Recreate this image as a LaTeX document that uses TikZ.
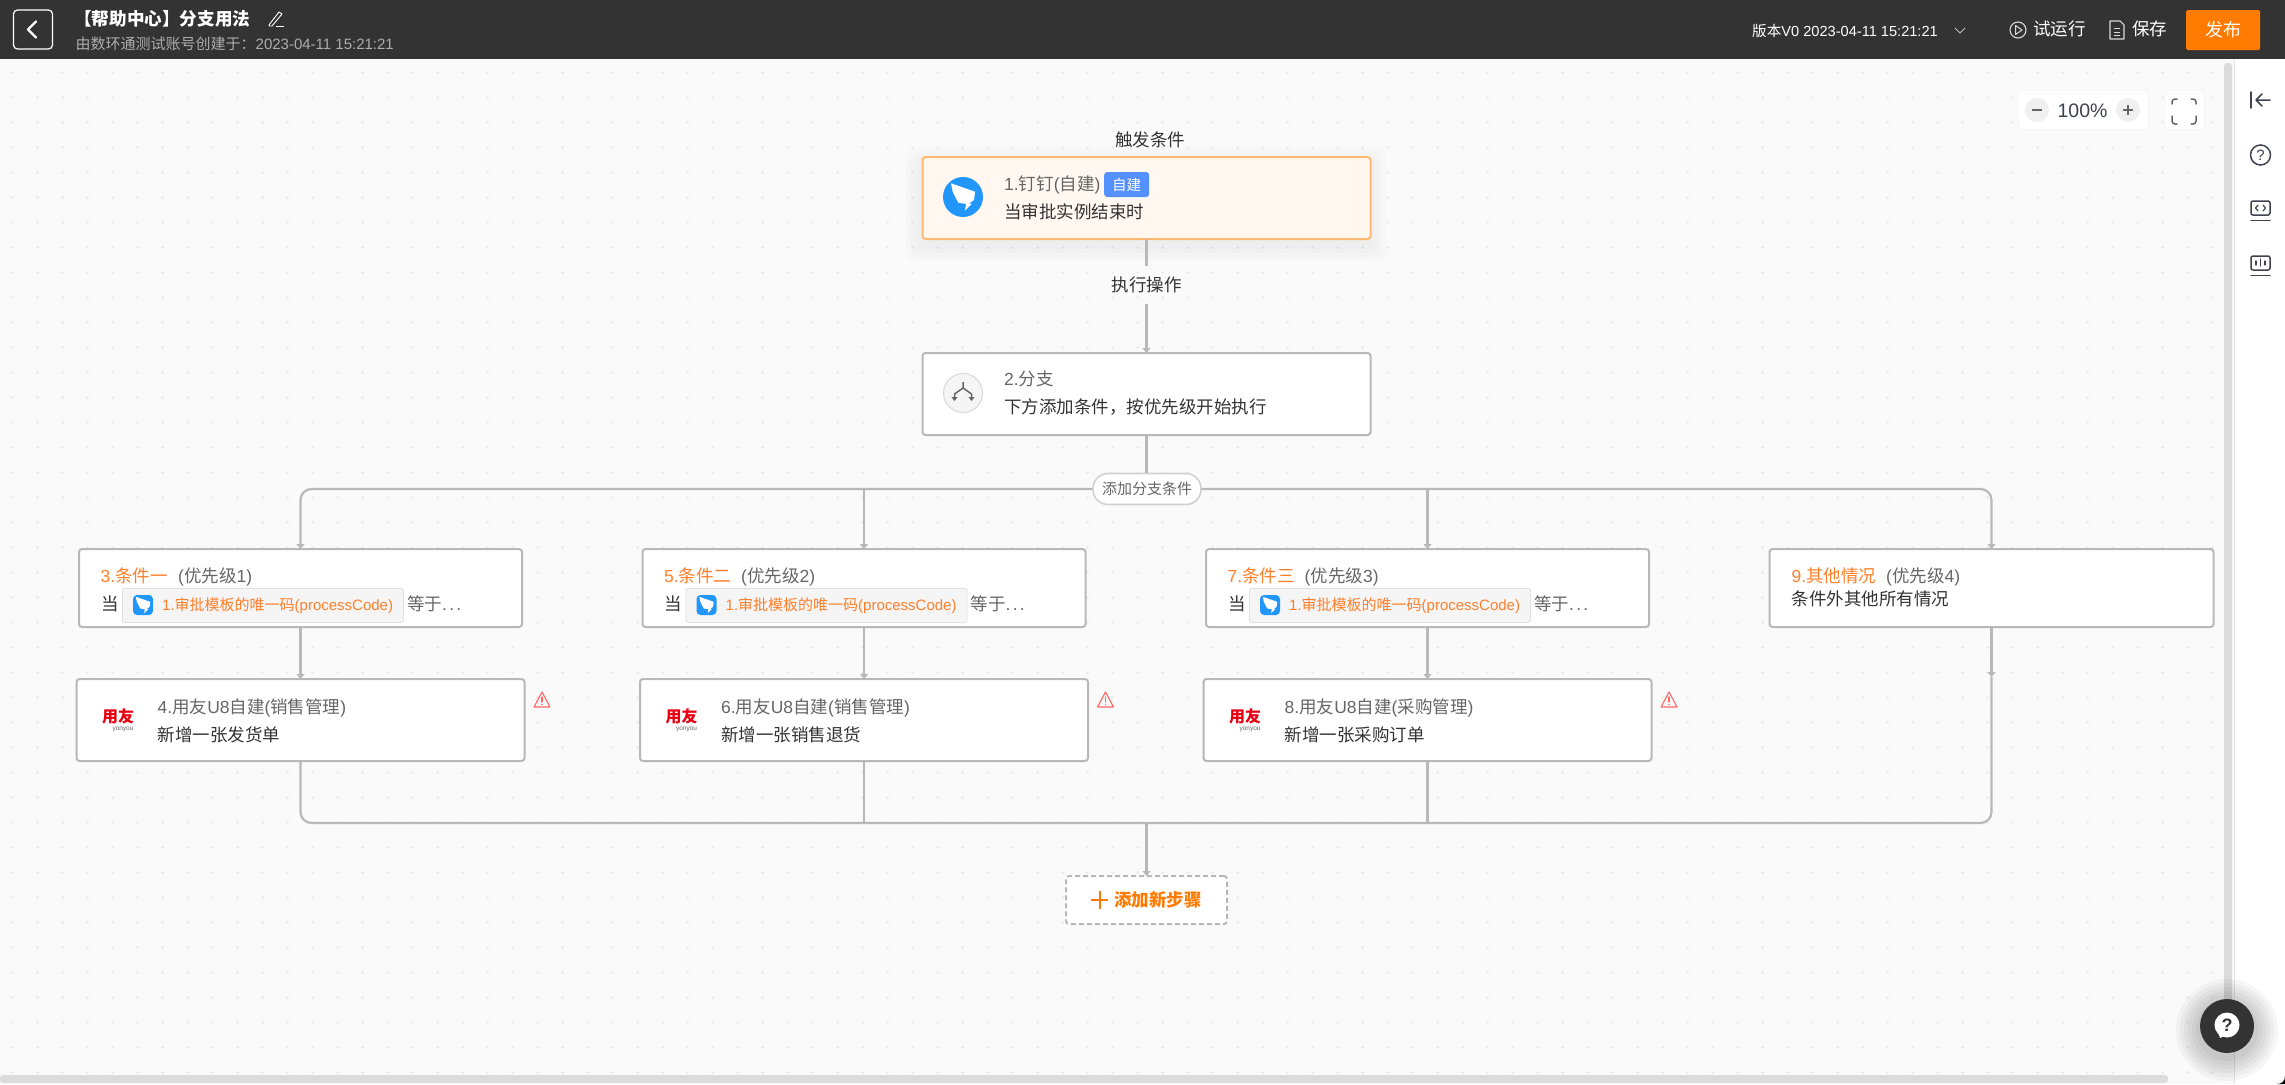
\documentclass[tikz,border=0pt]{standalone}
\usepackage{fontspec}
\setmainfont{Liberation Sans}
\newfontfamily\cjk{Noto Sans CJK SC}
\newcommand{\zh}[1]{{\cjk #1}}
\usetikzlibrary{arrows.meta,calc}
\definecolor{bar}{HTML}{333333}
\definecolor{edgec}{HTML}{B8B8B8}
\definecolor{orng}{HTML}{FF7A00}
\definecolor{tagorng}{HTML}{FF7F2A}
\definecolor{ding}{HTML}{2196FB}
\definecolor{canvas}{HTML}{FAFAFA}
\definecolor{dotc}{HTML}{E9E9E9}
\definecolor{gt}{HTML}{666666}
\definecolor{dt}{HTML}{333333}
\definecolor{ink}{HTML}{3F4250}
\definecolor{badge}{HTML}{5590FF}
\definecolor{yyred}{HTML}{E60012}
\tikzset{
  fs/.style={font=\fontsize{#1}{#1}\selectfont,text height={.88*#1 pt},text depth={.12*#1 pt}},
  txt/.style={anchor=west,inner sep=0pt,fs=#1},
  ctxt/.style={anchor=center,inner sep=0pt,fs=#1},
  card/.style={draw=edgec,line width=2pt,rounded corners=3pt,fill=white,inner sep=0pt,outer sep=0pt,anchor=north west},
  conn/.style={draw=edgec,line width=2.2pt},
  tip/.style={conn,-{Triangle[length=5pt,width=8pt]}},
  warnc/.style={draw=#1,line width=1.1pt,line join=round,line cap=round},
  icon/.style={draw=ink,line width=1.5pt,line cap=round,line join=round},
}
\newcommand{\wing}{\fill[white] (-12,-13.7) -- (12,-5.3) -- (11,3) -- (6.3,6.3) -- (8.7,7) -- (2,13.7) -- (3,7) -- (-4.7,5.7) -- (-7,1.3) -- (-10.3,-5.3) -- cycle;}
% name, left x, title text, priority x, priority
\newcommand{\condcard}[5]{%
  \node[card,minimum width=443pt,minimum height=78pt] (#1) at (#2,549) {};
  \node[txt=17.5,text=tagorng] (#1t) at ($(#2,576)+(21.5,0)$) {#3};
  \node[txt=17.5,text=gt] (#1p) at (#4,576) {(\zh{优先级}#5)};
  \node[txt=17.5,text=dt] (#1w) at ($(#2,604)+(22,0)$) {\zh{当}};
  \node[anchor=north west,draw=black!12,fill=black!4,rounded corners=2pt,minimum width=281pt,minimum height=34pt,inner sep=0pt,line width=.8pt] (#1b) at ($(#2,588)+(43,0)$) {};
  \fill[ding,rounded corners=4pt] ($(#2,595)+(54,0)$) rectangle ($(#2,615)+(74,0)$);
  \begin{scope}[shift={($(#2,605)+(64,0)$)},scale=.6]\wing\end{scope}
  \node[txt=15,text=tagorng] (#1v) at ($(#2,605)+(83,0)$) {1.\zh{审批模板的唯一码}(processCode)};
  \node[txt=17.5,text=gt] (#1e) at ($(#2,604)+(328,0)$) {\zh{等于}.\kern2.2pt.\kern2.2pt.};
}
% name, left x, title, subtitle
\newcommand{\yycard}[4]{%
  \node[card,minimum width=448pt,minimum height=82pt] (#1) at (#2,679) {};
  \node[ctxt=16,text=yyred,font=\cjk\bfseries\fontsize{16}{16}\selectfont] (#1l) at ($(#2,716)+(41.5,0)$) {用友};
  \node[ctxt=6.5,text=gt] (#1y) at ($(#2,727.7)+(46.5,0)$) {yonyou};
  \node[txt=17.5,text=gt] (#1t) at ($(#2,707)+(81,0)$) {#3};
  \node[txt=17.5,text=dt] (#1s) at ($(#2,735)+(81,0)$) {#4};
  \begin{scope}[shift={($(#2,700)+(465.5,0)$)}]
    \draw[warnc=red!60] (0,-8) -- (8,7) -- (-8,7) -- cycle;
    \draw[warnc=red!60] (0,-3) -- (0,2) (0,4.5) -- (0,4.6);
  \end{scope}
}
\begin{document}
\begin{tikzpicture}[x=1pt,y=-1pt]
\useasboundingbox (0,0) rectangle (2285,1084);
\fill[canvas] (0,0) rectangle (2285,1084);
% dot grid
\foreach \j in {0,...,40}{\draw[dotc,line width=3pt,line cap=round,dash pattern=on .01pt off 24.99pt] (12.5,{72+25*\j}) -- (2213,{72+25*\j});}
% header
\fill[bar] (0,0) rectangle (2285,59);
\node[draw=white,line width=1.2pt,rounded corners=4pt,minimum width=39pt,minimum height=39pt,inner sep=0pt] (back) at (33,29.5) {};
\draw[white,line width=2.4pt,line cap=round,line join=round] (36,21.5) -- (28,29.5) -- (36,37.5);
\node[txt=17.6,text=white,font=\cjk\bfseries\fontsize{17.6}{17.6}\selectfont] (title) at (74,19) {【帮助中心】分支用法};
\begin{scope}[shift={(276,19)}]
  \draw[white,line width=.9pt,line join=round] (-7,6) -- (3,-7) -- (6,-5) -- (-4,7) -- (-7,7) -- cycle;
  \draw[white,line width=.9pt] (0,7.5) -- (8,7.5);
\end{scope}
\node[txt=15,text=white!68!black] (subt) at (75.5,43.5) {\zh{由数环通测试账号创建于：}2023-04-11 15:21:21};
\node[txt=14.6,text=white] (ver) at (1752,30.5) {\zh{版本}V0 2023-04-11 15:21:21};
\draw[white!75!black,line width=.9pt] (1955,28) -- (1960,33) -- (1965,28);
\node[circle,draw=white!85!black,line width=1.1pt,minimum size=16pt,inner sep=0pt] (play) at (2018,30) {};
\draw[white!85!black,line width=1pt,line join=round] (2015.5,25.5) -- (2022,30) -- (2015.5,34.5) -- cycle;
\node[txt=17.5,text=white] (tryrun) at (2033,29) {\zh{试运行}};
\begin{scope}[shift={(2117,30)}]
  \draw[white!85!black,line width=1.1pt,line join=round] (-7,-9) -- (3,-9) -- (7,-5) -- (7,9) -- (-7,9) -- cycle;
  \draw[white!85!black,line width=1pt] (-3,-2) -- (3,-2) (-3,2) -- (3,2) (-3,5.5) -- (3,5.5);
\end{scope}
\node[txt=17.5,text=white] (save) at (2132,29) {\zh{保存}};
\node[fill=orng,rounded corners=1.5pt,minimum width=74pt,minimum height=40pt,inner sep=0pt,text=white,fs=18] (pub) at (2223,30) {\zh{发布}};
% scrollbars and sidebar
\fill[white] (2234,59) rectangle (2285,1084);
\draw[black!10,line width=1pt] (2234,59) -- (2234,1084);
\fill[black!14,rounded corners=3pt] (2224,63) rectangle (2232,1020);
\fill[black!14,rounded corners=3pt] (0,1075) rectangle (2168,1083);
\fill[black] (2277,1084) .. controls (2282,1084) and (2285,1081) .. (2285,1076) -- (2285,1084) -- cycle;
% sidebar icons
\draw[icon] (2251,92) -- (2251,108);
\draw[icon] (2270,100) -- (2256,100) (2262,94) -- (2256,100) -- (2262,106);
\node[circle,draw=ink,line width=1.5pt,minimum size=20pt,inner sep=0pt,text=ink,fs=15] (helpq) at (2260.5,155) {?};
\draw[icon,rounded corners=2pt] (2251,201) rectangle (2270,215);
\draw[icon] (2251,220.5) -- (2270,220.5);
\draw[icon,line width=1.2pt] (2258,205) -- (2255.5,208) -- (2258,211) (2263,205) -- (2265.5,208) -- (2263,211);
\draw[icon,rounded corners=2pt] (2251,256) rectangle (2270,270);
\draw[icon] (2251,275.5) -- (2270,275.5);
\draw[icon,line width=1.2pt] (2256,265) -- (2256,261) (2260.5,266) -- (2260.5,259) (2265,265) -- (2265,261);
% zoom controls
\node[anchor=north west,fill=white,draw=black!7,rounded corners=4pt,minimum width=130pt,minimum height=39pt,inner sep=0pt] (zoomp) at (2018,90.5) {};
\node[circle,fill=black!6,minimum size=24pt,inner sep=0pt] (zminus) at (2037,110) {};
\node[circle,fill=black!6,minimum size=24pt,inner sep=0pt] (zplus) at (2128,110) {};
\draw[gt,line width=1.3pt] (2032,110) -- (2042,110) (2123,110) -- (2133,110) (2128,105) -- (2128,115);
\node[ctxt=19.5,text=ink] (zval) at (2082.5,110) {100\%};
\node[anchor=north west,fill=white,draw=black!7,rounded corners=4pt,minimum width=39pt,minimum height=39pt,inner sep=0pt] (fullb) at (2165,90.5) {};
\draw[gt,line width=1.5pt,line cap=round,rounded corners=3pt] (2172,104) -- (2172,99) -- (2177,99)
  (2191,99) -- (2196,99) -- (2196,104)
  (2196,116) -- (2196,124) -- (2191,124)
  (2177,124) -- (2172,124) -- (2172,116);
% node 1 shadow
\foreach \g in {16,12,8,4}{\fill[black,opacity=.01,rounded corners=8pt] ({922-\g},{158-\g+6}) rectangle ({1370+\g},{239+\g+6});}
% labels
\node[ctxt=17.5,text=dt] (trig) at (1150,139.5) {\zh{触发条件}};
\node[card,draw=orange!55!white,fill=orange!6!white,minimum width=448pt,minimum height=82pt] (n1) at (922.5,157) {};
\node[circle,fill=ding,minimum size=40pt,inner sep=0pt] (n1i) at (963,197) {};
\begin{scope}[shift={(963,197)}]\wing\end{scope}
\node[txt=17.5,text=gt] (n1t) at (1004,184) {1.\zh{钉钉}(\zh{自建})};
\node[fill=badge,rounded corners=3pt,minimum width=45pt,minimum height=25pt,inner sep=0pt,text=white,fs=14.6,anchor=west] (n1b) at (1104,184.5) {\zh{自建}};
\node[txt=17.5,text=dt] (n1s) at (1004,212) {\zh{当审批实例结束时}};
\node[inner sep=0pt,minimum width=80pt,minimum height=37pt,text=dt,fs=17.5] (exec) at (1146.5,285) {\zh{执行操作}};
\node[card,minimum width=448pt,minimum height=82pt] (n2) at (922.5,353) {};
\node[circle,draw=black!15,fill=black!4,line width=1pt,minimum size=39pt,inner sep=0pt] (n2i) at (963,393) {};
\draw[gt,line width=1.5pt,line join=round,-{Triangle[length=4pt,width=6pt]}] (963,382) -- (963,388) -- (954.5,394) -- (954.5,401);
\draw[gt,line width=1.5pt,line join=round,-{Triangle[length=4pt,width=6pt]}] (963,388) -- (971.5,394) -- (971.5,401);
\node[txt=17.5,text=gt] (n2t) at (1004,379) {2.\zh{分支}};
\node[txt=17.5,text=dt] (n2s) at (1004,407) {\zh{下方添加条件，按优先级开始执行}};
\node[draw=black!18,line width=1.6pt,fill=white,rounded corners=15pt,minimum width=108pt,minimum height=31pt,inner sep=0pt,text=gt,fs=15] (addc) at (1147,489) {\zh{添加分支条件}};
% cards
\condcard{n3}{79}{3.\zh{条件一}}{178}{1}
\condcard{n5}{642.5}{5.\zh{条件二}}{741}{2}
\condcard{n7}{1206}{7.\zh{条件三}}{1304.5}{3}
\yycard{n4}{76.5}{4.\zh{用友}U8\zh{自建}(\zh{销售管理})}{\zh{新增一张发货单}}
\yycard{n6}{640}{6.\zh{用友}U8\zh{自建}(\zh{销售管理})}{\zh{新增一张销售退货}}
\yycard{n8}{1203.5}{8.\zh{用友}U8\zh{自建}(\zh{采购管理})}{\zh{新增一张采购订单}}
\node[card,minimum width=444pt,minimum height=78pt] (n9) at (1769.5,549) {};
\node[txt=17.5,text=tagorng] (n9t) at (1791.5,576) {9.\zh{其他情况}};
\node[txt=17.5,text=gt] (n9p) at (1886,576) {(\zh{优先级}4)};
\node[txt=17.5,text=dt] (n9s) at (1791.5,599) {\zh{条件外其他所有情况}};
\node[card,draw=edgec,dash pattern=on 5pt off 3pt,line width=2pt,minimum width=161pt,minimum height=48pt] (add) at (1066,876) {};
\draw[orng,line width=2pt] (1091,900) -- (1108,900) (1099.5,891) -- (1099.5,909);
\node[txt=17.5,text=orng,font=\cjk\bfseries\fontsize{17.5}{17.5}\selectfont] (addt) at (1114,900) {添加新步骤};
% help button
\foreach \g in {24,20,16,12,8,4}{\fill[black,opacity=.035] (2227,1030) circle ({27+\g});}
\node[circle,fill=bar,minimum size=54pt,inner sep=0pt] (help) at (2227,1026) {};
\fill[white] (2227,1025) circle (12.5);
\fill[white] (2218,1032) -- (2220,1038) -- (2226,1035) -- cycle;
\node[ctxt=18,text=bar,font=\bfseries\fontsize{18}{18}\selectfont] (helpm) at (2227,1025) {?};
% connectors
\coordinate (c9) at (1991.5,677);
\coordinate (merge) at (1146.5,823);
\draw[conn] (n1.south) -- (exec.north);
\draw[tip] (exec.south) -- (n2.north);
\draw[conn] (n2.south) -- (addc.north -| n2.south);
\draw[tip,rounded corners=11pt] (addc.west) -| (n3.north);
\draw[tip,rounded corners=11pt] (addc.east) -| (n9.north);
\draw[tip] (n5.north |- addc.west) -- (n5.north);
\draw[tip] (n7.north |- addc.east) -- (n7.north);
\draw[tip] (n3.south) -- (n4.north);
\draw[tip] (n5.south) -- (n6.north);
\draw[tip] (n7.south) -- (n8.north);
\draw[tip] (n9.south) -- (c9);
\draw[conn,rounded corners=11pt] (n4.south) |- (merge);
\draw[conn,rounded corners=11pt] (c9) |- (merge);
\draw[conn] (n6.south) -- (n6.south |- merge);
\draw[conn] (n8.south) -- (n8.south |- merge);
\draw[tip] (merge) -- (add.north);
\end{tikzpicture}
\end{document}
